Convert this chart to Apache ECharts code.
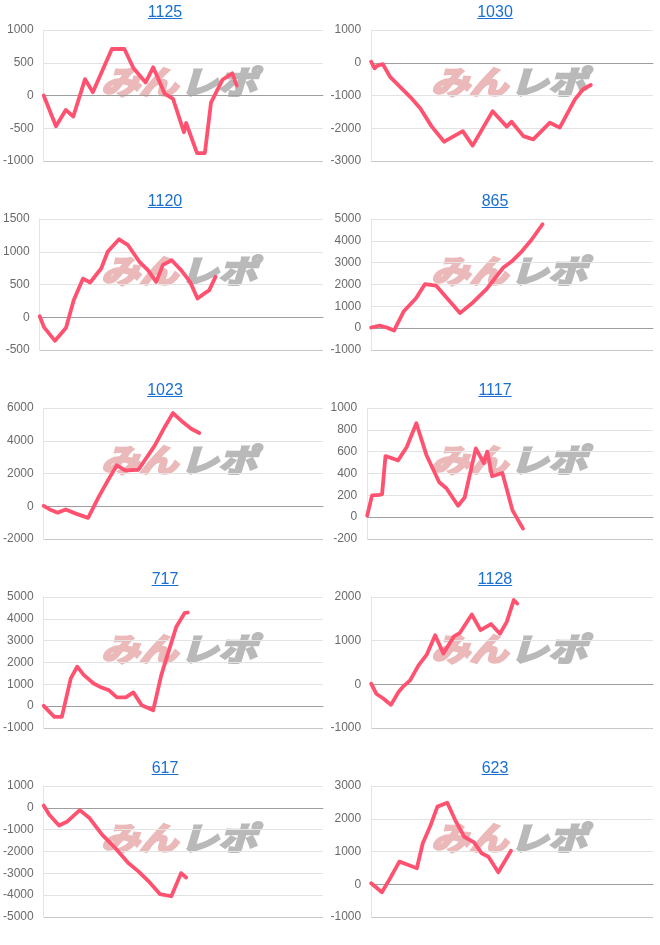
<!DOCTYPE html>
<html>
<head>
<meta charset="utf-8">
<script src="https://cdn.jsdelivr.net/npm/echarts@6/dist/echarts.min.js"></script>
<style>
  html, body { margin: 0; padding: 0; background: #ffffff; }
  #chart { width: 660px; height: 945px; }
</style>
</head>
<body>
<div id="chart"></div>
<script>
// ---- data (x: share of the day's play, 0-100; y: coin difference) ----
const titles = ['1125', '1030', '1120', '865', '1023', '1117', '717', '1128', '617', '623'];
const yMin  = [-1000, -3000, -500, -1000, -2000, -200, -1000, -1000, -5000, -1000];
const yMax  = [ 1000,  1000, 1500,  5000,  6000, 1000,  5000,  2000,  1000,  3000];
const yStep = [  500,  1000,  500,  1000,  2000,  200,  1000,  1000,  1000,  1000];

const data1125 = [[0,0],[4.4,-470],[7.9,-220],[10.6,-320],[14.8,250],[17.6,50],[24.4,710],[28.9,710],[32.1,420],[36.5,200],[39.2,430],[43.3,30],[46.3,-50],[50.2,-560],[51.0,-420],[54.9,-880],[57.7,-880],[59.9,-110],[64.0,240],[67.5,340],[69.1,150]];
const data1030 = [[0,30],[1.2,-170],[2.0,-100],[4.1,-40],[6.7,-430],[13.8,-1040],[17.4,-1390],[21.5,-1950],[25.9,-2410],[32.5,-2090],[36.0,-2530],[43.1,-1480],[48.1,-1950],[49.8,-1800],[54.0,-2240],[57.5,-2340],[63.4,-1830],[66.9,-1980],[72.3,-1120],[75.2,-810],[77.9,-680]];
const data1120 = [[0,15],[1.5,-150],[5.4,-360],[9.3,-160],[12.0,260],[15.3,590],[17.8,530],[21.7,745],[24.0,1000],[28.0,1190],[31.2,1100],[35.3,840],[38.2,720],[41.1,540],[43.5,800],[46.6,870],[49.9,720],[53.1,540],[55.7,285],[58.0,360],[59.8,410],[62.1,620]];
const data865  = [[0,30],[3.0,120],[5.5,30],[8.1,-110],[11.5,760],[15.9,1370],[19.1,2020],[23.0,1950],[27.4,1300],[31.5,690],[36.2,1190],[41.0,1800],[46.9,2780],[49.8,3050],[53.4,3510],[56.9,4050],[60.8,4760]];
const data1023 = [[0,20],[2.0,-180],[5.0,-390],[7.9,-200],[11.5,-450],[15.9,-710],[19.7,570],[23.0,1580],[26.2,2500],[29.2,2190],[33.9,2230],[39.8,3720],[43.3,4830],[46.3,5690],[49.8,5140],[52.8,4730],[55.7,4470]];
const data1117 = [[0,15],[1.7,200],[4.4,205],[5.2,210],[6.4,560],[10.8,520],[13.8,640],[17.2,860],[20.7,570],[25.2,320],[27.7,265],[31.8,105],[34.1,180],[38.0,630],[40.8,495],[42.0,600],[43.7,375],[47.3,405],[50.8,65],[54.5,-105]];
const data717  = [[0,15],[3.8,-490],[6.5,-490],[9.7,1270],[12.0,1810],[14.4,1420],[17.9,1040],[20.9,840],[23.3,735],[26.2,400],[29.4,400],[32.1,630],[35.1,45],[39.2,-185],[42.1,1420],[44.5,2420],[47.5,3640],[50.4,4260],[51.6,4290]];
const data1128 = [[0,15],[1.8,-215],[4.4,-330],[7.0,-470],[9.7,-175],[11.5,-40],[13.8,90],[16.8,435],[19.7,680],[22.7,1125],[25.6,705],[29.4,1100],[31.5,1180],[35.7,1600],[38.8,1240],[42.5,1380],[45.7,1160],[48.1,1430],[50.6,1930],[51.8,1850]];
const data617  = [[0,105],[2.0,-320],[5.5,-810],[8.5,-625],[12.9,-105],[16.4,-470],[20.9,-1230],[25.6,-1840],[30.3,-2530],[33.9,-2910],[37.4,-3340],[41.6,-3950],[45.7,-4050],[49.2,-2990],[51.0,-3190]];
const data623  = [[0,30],[3.8,-245],[6.7,180],[10.0,690],[13.2,590],[16.2,490],[18.3,1250],[20.9,1760],[23.5,2370],[27.0,2490],[29.8,1960],[33.0,1450],[36.5,1280],[39.2,945],[41.6,840],[45.1,365],[49.6,1025]];

const seriesData = [data1125, data1030, data1120, data865, data1023, data1117, data717, data1128, data617, data623];

// ---- layout / style ----
const PANEL_W = 330, PANEL_H = 189, GRID_TOP = 30, GRID_H = 131, PLOT_RIGHT = 323;
const LABEL_FONT = 12, LABEL_MARGIN = 10;
const FONT = 'Arial, "Liberation Sans", sans-serif';
const LINE_COLOR = '#ff5270';
const TITLE_COLOR = '#1a6fd2';

const ctx = document.createElement('canvas').getContext('2d');
function textWidth(t, font) { ctx.font = font; return ctx.measureText(t).width; }

const grid = [], xAxis = [], yAxis = [], series = [], title = [], graphic = [];

titles.forEach((name, i) => {
  const col = i % 2, row = Math.floor(i / 2);
  const x0 = col * PANEL_W, y0 = row * PANEL_H;
  // widest tick label decides where the plot starts
  let maxW = 0;
  for (let v = yMin[i]; v <= yMax[i]; v += yStep[i]) {
    maxW = Math.max(maxW, textWidth(String(v), LABEL_FONT + 'px ' + FONT));
  }
  const left = x0 + 0.5 + maxW + LABEL_MARGIN;
  grid.push({ left: left, top: y0 + GRID_TOP, width: x0 + PLOT_RIGHT - left, height: GRID_H });

  xAxis.push({
    gridIndex: i, type: 'value', min: 0, max: 100,
    axisLabel: { show: false }, axisTick: { show: false }, splitLine: { show: false },
    axisLine: { show: true, onZero: true, lineStyle: { color: '#9e9e9e', width: 1 } }
  });
  yAxis.push({
    gridIndex: i, type: 'value', min: yMin[i], max: yMax[i], interval: yStep[i],
    axisLine: { show: true, lineStyle: { color: '#e4e4e4', width: 1 } },
    axisTick: { show: false },
    axisLabel: { color: '#6a6a6a', fontSize: LABEL_FONT, fontFamily: FONT, margin: LABEL_MARGIN,
                 formatter: v => String(v) },
    splitLine: { show: true, lineStyle: { color: ['#c8c8c8', '#e3e3e3', '#e3e3e3', '#e3e3e3', '#e3e3e3', '#e3e3e3', '#e3e3e3', '#e3e3e3', '#e3e3e3', '#e3e3e3'], width: 1 } }
  });
  series.push({
    type: 'line', xAxisIndex: i, yAxisIndex: i, data: seriesData[i],
    symbol: 'none', z: 5, silent: true,
    lineStyle: { color: LINE_COLOR, width: 3.8, join: 'round', cap: 'round' }
  });
  title.push({
    text: name, left: x0 + PANEL_W / 2, top: y0 + 5, textAlign: 'center', padding: 0,
    textStyle: { color: TITLE_COLOR, fontSize: 16, fontWeight: 'normal', fontFamily: FONT }
  });
  const tw = textWidth(name, '16px ' + FONT);
  graphic.push({
    type: 'line', z: 10,
    shape: { x1: x0 + PANEL_W / 2 - tw / 2, y1: y0 + 18.5, x2: x0 + PANEL_W / 2 + tw / 2, y2: y0 + 18.5 },
    style: { stroke: TITLE_COLOR, lineWidth: 1 }
  });
  // watermark
  const wmFont = 'italic bold 32px "Noto Sans CJK JP", sans-serif';
  graphic.push({
    type: 'text', z: 0, x: x0 + 101, y: y0 + GRID_TOP + 36, scaleX: 1.2,
    style: { text: 'みん', fill: '#ebb9b9', stroke: '#ebb9b9', lineWidth: 2.5, font: wmFont, align: 'left', verticalAlign: 'top' }
  });
  graphic.push({
    type: 'text', z: 0, x: x0 + 180, y: y0 + GRID_TOP + 36, scaleX: 1.2,
    style: { text: 'レポ', fill: '#b9b9b9', stroke: '#b9b9b9', lineWidth: 2.5, font: wmFont, align: 'left', verticalAlign: 'top' }
  });
});

const chart = echarts.init(document.getElementById('chart'), null, { renderer: 'canvas' });
chart.setOption({
  animation: false,
  backgroundColor: '#ffffff',
  title: title, grid: grid, xAxis: xAxis, yAxis: yAxis, series: series, graphic: graphic
});
</script>
</body>
</html>
